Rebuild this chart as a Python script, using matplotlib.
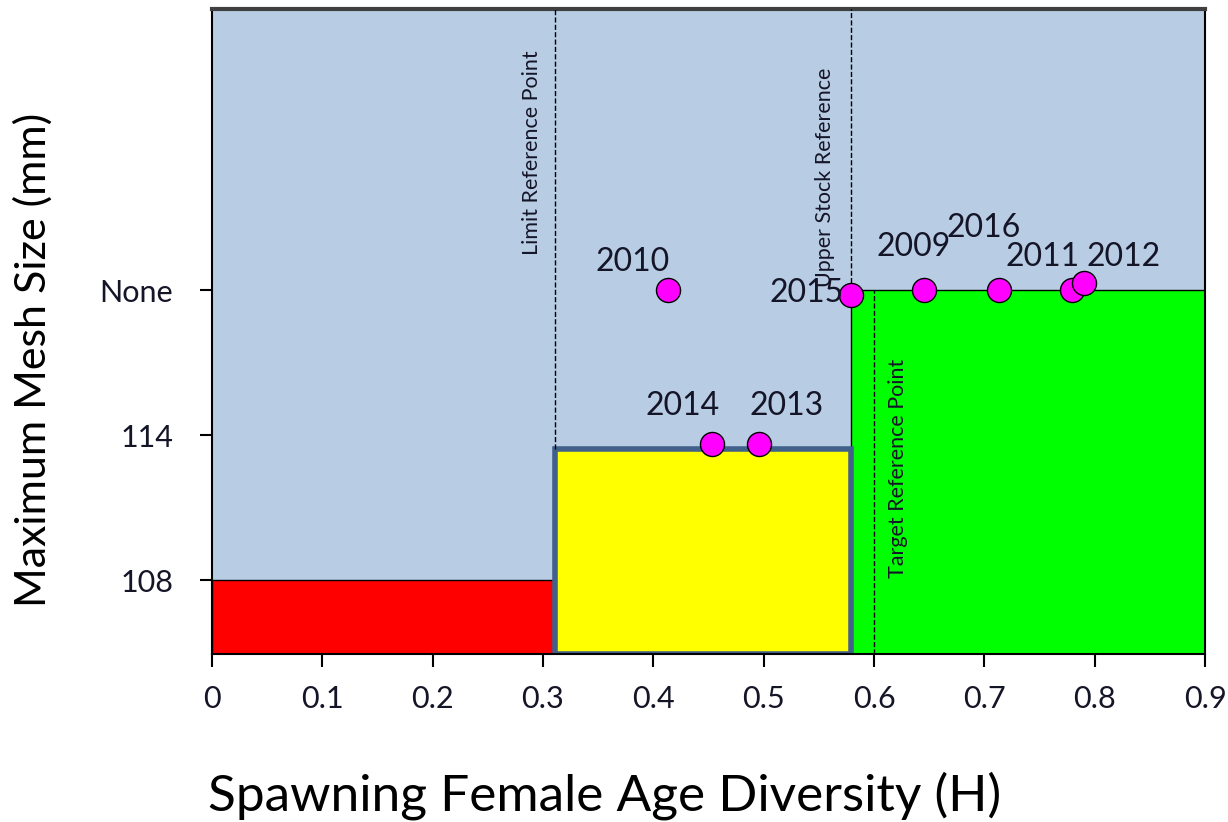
import matplotlib.pyplot as plt
from matplotlib.patches import Rectangle

plt.rcParams['font.family'] = ['Lato', 'DejaVu Sans']

# data
years = ['2009', '2010', '2011', '2012', '2013', '2014', '2015', '2016']
age_div = [0.645, 0.413, 0.779, 0.790, 0.496, 0.453, 0.579, 0.713]
mesh_level = [3.0, 3.0, 3.0, 3.05, 1.94, 1.94, 2.97, 3.0]   # 1=108, 2=114, 3=None

y_ticks = [1, 2, 3]
y_labels = ['108', '114', 'None']
x_ticks = [0, 0.1, 0.2, 0.3, 0.4, 0.5, 0.6, 0.7, 0.8, 0.9]

limit_ref = 0.311
upper_ref = 0.579
target_ref = 0.6
yellow_top = 1.907

# label offsets in points (dx, dy)
offsets = {'2009': (-7, 31), '2010': (-25, 20), '2011': (-21, 24), '2012': (29, 19),
           '2013': (20, 27), '2014': (-21, 27), '2015': (-32, 1), '2016': (-11, 45)}

txt = '#151528'

fig = plt.figure(figsize=(12.28, 8.22), dpi=100)
ax = fig.add_axes([0.1726, 0.2044, 0.8087, 0.7846])
ymin, ymax = 0.49, 4.94
ax.set_xlim(0, 0.9)
ax.set_ylim(ymin, ymax)
ax.set_facecolor('#B8CCE4')

# zones
ax.add_patch(Rectangle((0, ymin), limit_ref, 1 - ymin, facecolor='#FF0000',
                       edgecolor='black', lw=1, zorder=1))
ax.add_patch(Rectangle((upper_ref, ymin), 0.9 - upper_ref, 3 - ymin, facecolor='#00FF00',
                       edgecolor='black', lw=1, zorder=1))
ax.add_patch(Rectangle((limit_ref, ymin), upper_ref - limit_ref, yellow_top - ymin,
                       facecolor='#FFFF00', edgecolor='#41608A', lw=4, zorder=2))

# reference lines
ax.plot([limit_ref, limit_ref], [yellow_top, ymax], ls='--', color='black', lw=1, zorder=3)
ax.plot([upper_ref, upper_ref], [3, ymax], ls='--', color='black', lw=1, zorder=3)
ax.plot([target_ref, target_ref], [ymin, 3], ls='--', color='black', lw=1, zorder=3)

ax.text(0.290, 3.24, 'Limit Reference Point', rotation=90, fontsize=15.5,
        ha='center', va='bottom', color=txt)
ax.text(0.556, 3.02, 'Upper Stock Reference', rotation=90, fontsize=15.5,
        ha='center', va='bottom', color=txt)
ax.text(0.622, 1.014, 'Target Reference Point', rotation=90, fontsize=15.5,
        ha='center', va='bottom', color=txt)

ax.scatter(age_div, mesh_level, s=300, color='#FF00FF', edgecolor='black', lw=1, zorder=5)
for yr, x, y in zip(years, age_div, mesh_level):
    ax.annotate(yr, (x, y), xytext=offsets[yr], textcoords='offset points',
                ha='center', va='center', fontsize=23, color=txt, zorder=6)

ax.set_xticks(x_ticks)
ax.set_xticklabels(['0'] + [f'{v:.1f}' for v in x_ticks[1:]])
ax.set_yticks(y_ticks)
ax.set_yticklabels(y_labels)
ax.tick_params(axis='x', direction='out', length=9, width=1.5, pad=13, labelsize=22,
               labelcolor=txt)
ax.tick_params(axis='y', direction='out', length=9, width=1.5, pad=19, labelsize=22,
               labelcolor=txt)
for s in ['left', 'bottom', 'right']:
    ax.spines[s].set_color('black')
    ax.spines[s].set_linewidth(1.5)
ax.spines['top'].set_color('#404040')
ax.spines['top'].set_linewidth(3)

fig.text(0.492, 0.0134, 'Spawning Female Age Diversity (H)', fontsize=37,
         ha='center', va='baseline', color='black')
fig.text(0.027, 0.562, 'Maximum Mesh Size (mm)', fontsize=31, rotation=90,
         ha='center', va='center', color='black')

fig.savefig('out.png', dpi=100)
